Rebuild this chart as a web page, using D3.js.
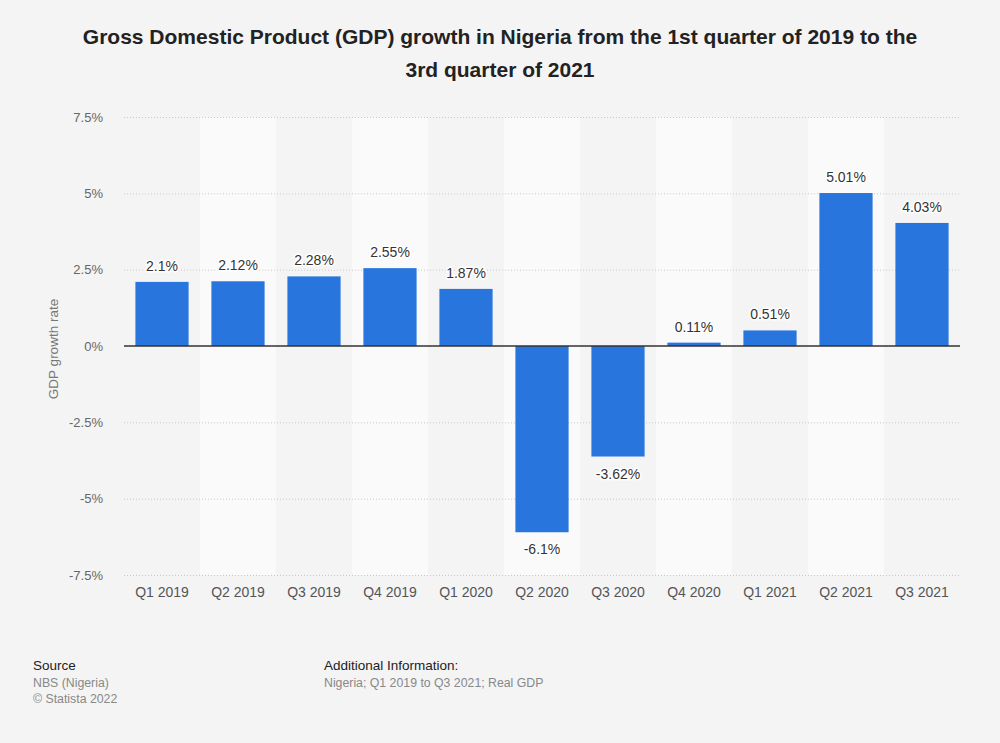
<!DOCTYPE html>
<html><head><meta charset="utf-8">
<script src="https://cdn.jsdelivr.net/npm/d3@7"></script>
<style>
html,body{margin:0;padding:0;background:#f4f4f4;}
svg{display:block;font-family:"Liberation Sans",Arial,sans-serif;}
</style></head>
<body>
<svg id="chart" width="1000" height="743"></svg>
<script>
const categories = ["Q1 2019","Q2 2019","Q3 2019","Q4 2019","Q1 2020","Q2 2020","Q3 2020","Q4 2020","Q1 2021","Q2 2021","Q3 2021"];
const values = [2.1, 2.12, 2.28, 2.55, 1.87, -6.1, -3.62, 0.11, 0.51, 5.01, 4.03];
const valueLabels = ["2.1%","2.12%","2.28%","2.55%","1.87%","-6.1%","-3.62%","0.11%","0.51%","5.01%","4.03%"];
const yTicks = [-7.5, -5, -2.5, 0, 2.5, 5, 7.5];
const yTickLabels = ["-7.5%","-5%","-2.5%","0%","2.5%","5%","7.5%"];

const svg = d3.select("#chart");
svg.append("rect").attr("width",1000).attr("height",743).attr("fill","#f4f4f4");

const pLeft = 124, pRight = 960, pTop = 117, pBottom = 575;
const x = d3.scaleBand().domain(categories).range([pLeft, pRight]).paddingInner(0.3).paddingOuter(0.15);
const xb = d3.scaleBand().domain(categories).range([pLeft, pRight]).padding(0);
const y = d3.scaleLinear().domain([-7.5, 7.5]).range([pBottom, pTop]);

// alternating bands
svg.append("g").selectAll("rect").data(categories.filter((d,i)=>i%2===1)).join("rect")
  .attr("x", d=>xb(d)).attr("width", xb.bandwidth())
  .attr("y", pTop).attr("height", pBottom-pTop).attr("fill","#fafafa");

// grid
svg.append("g").selectAll("line").data(yTicks.filter(t=>t!==0)).join("line")
  .attr("x1", pLeft).attr("x2", pRight).attr("y1", d=>y(d)+0.5).attr("y2", d=>y(d)+0.5)
  .attr("stroke","#c8c8c8").attr("stroke-width",1).attr("stroke-dasharray","1,2");

// y axis labels
const yAxis = d3.axisLeft(y).tickValues(yTicks).tickFormat((d,i)=>yTickLabels[i]).tickSize(0).tickPadding(0);
const ga = svg.append("g").attr("transform",`translate(${pLeft-21},0)`).call(yAxis);
ga.select(".domain").remove();
ga.selectAll("text").attr("font-size",13).attr("fill","#666").attr("font-family","Liberation Sans, Arial, sans-serif");

// x axis labels
const xAxis = d3.axisBottom(xb).tickSize(0).tickPadding(0);
const gx = svg.append("g").attr("transform",`translate(0,${pBottom+12})`).call(xAxis);
gx.select(".domain").remove();
gx.selectAll("text").attr("font-size",14).attr("fill","#555").attr("font-family","Liberation Sans, Arial, sans-serif");

// bars
svg.append("g").selectAll("rect").data(values).join("rect")
  .attr("x",(d,i)=>x(categories[i])).attr("width",x.bandwidth())
  .attr("y",d=>y(Math.max(0,d))).attr("height",d=>Math.abs(y(d)-y(0)))
  .attr("fill","#2876dd");

// zero line
svg.append("line").attr("x1",pLeft).attr("x2",pRight).attr("y1",y(0)).attr("y2",y(0))
  .attr("stroke","#333").attr("stroke-width",1.5);

// value labels
svg.append("g").selectAll("text").data(values).join("text")
  .attr("x",(d,i)=>x(categories[i])+x.bandwidth()/2)
  .attr("y",d=> d>=0 ? y(d)-11 : y(d)+22)
  .attr("text-anchor","middle").attr("font-size",14).attr("fill","#333")
  .attr("stroke","#ffffff").attr("stroke-width",3).attr("stroke-linejoin","round")
  .attr("paint-order","stroke")
  .text((d,i)=>valueLabels[i]);

// y label
svg.append("text").attr("transform","translate(58,349) rotate(-90)").attr("text-anchor","middle")
  .attr("font-size",13.5).attr("fill","#777").text("GDP growth rate");

// title
const title = svg.append("text").attr("text-anchor","middle").attr("font-size",21).attr("font-weight","bold").attr("fill","#222");
title.append("tspan").attr("x",500).attr("y",44).text("Gross Domestic Product (GDP) growth in Nigeria from the 1st quarter of 2019 to the");
title.append("tspan").attr("x",500).attr("y",77).text("3rd quarter of 2021");

// footer
svg.append("text").attr("x",33).attr("y",670).attr("font-size",13.5).attr("fill","#222").text("Source");
svg.append("text").attr("x",33).attr("y",687).attr("font-size",12.3).attr("fill","#888").text("NBS (Nigeria)");
svg.append("text").attr("x",33).attr("y",703).attr("font-size",12.3).attr("fill","#888").text("© Statista 2022");
svg.append("text").attr("x",324).attr("y",670).attr("font-size",13.5).attr("fill","#222").text("Additional Information:");
svg.append("text").attr("x",324).attr("y",687).attr("font-size",12.3).attr("fill","#888").text("Nigeria; Q1 2019 to Q3 2021; Real GDP");
</script>
</body></html>
